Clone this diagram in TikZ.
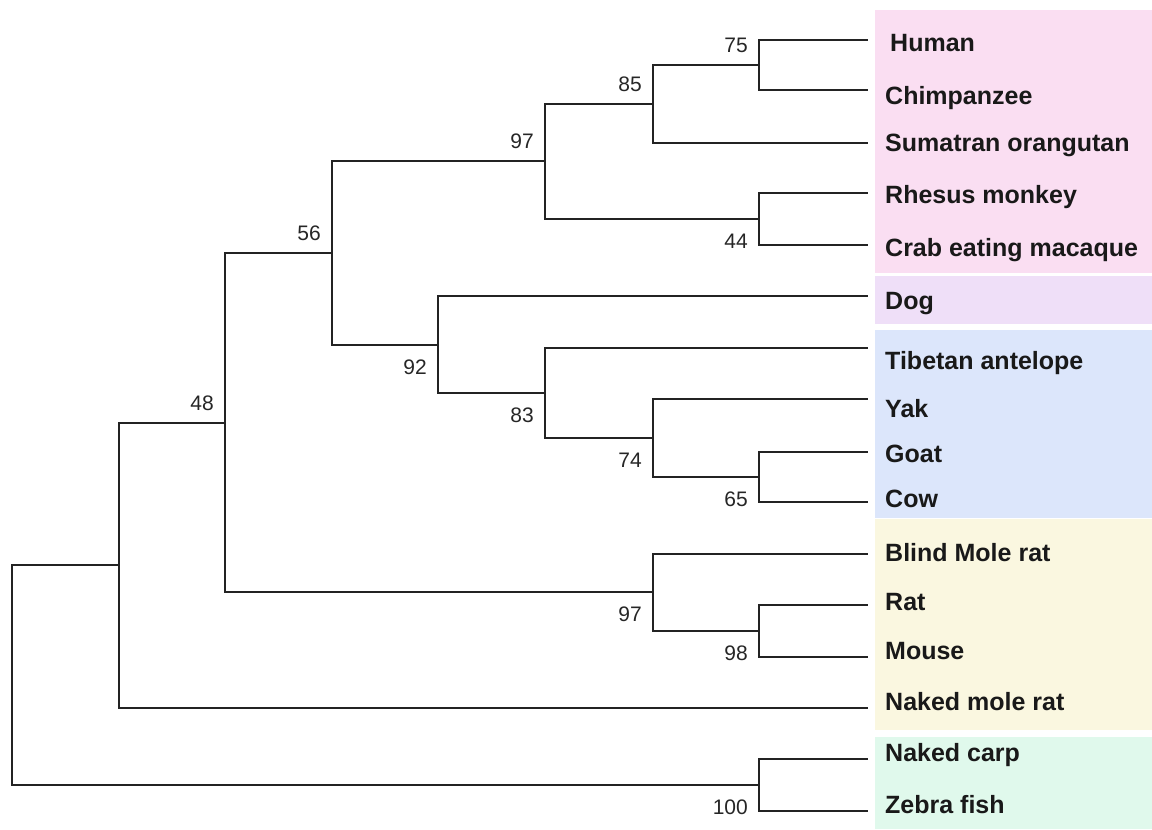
\documentclass[tikz,border=0pt]{standalone}
\usepackage{fontspec}
\setmainfont{Liberation Sans}
\definecolor{pinkbg}{RGB}{250,222,242}
\definecolor{lavbg}{RGB}{239,223,248}
\definecolor{bluebg}{RGB}{220,230,251}
\definecolor{yelbg}{RGB}{250,247,224}
\definecolor{grnbg}{RGB}{224,249,236}
\definecolor{branch}{RGB}{35,35,35}
\begin{document}
\begin{tikzpicture}[x=1pt,y=-1pt,
  br/.style={draw=branch,line width=2.1pt,line cap=rect},
  leaf/.style={anchor=mid west,inner sep=0pt,yshift=-5pt,font=\fontsize{25}{25}\selectfont\bfseries,text=black!90},
  bsa/.style={anchor=east,inner sep=0pt,xshift=-11pt,yshift=20pt,font=\fontsize{21}{21}\selectfont,text=black!85},
  bsb/.style={anchor=east,inner sep=0pt,xshift=-11pt,yshift=-22pt,font=\fontsize{21}{21}\selectfont,text=black!85}]
\useasboundingbox (0,0) rectangle (1152,830);
\fill[white] (0,0) rectangle (1152,830);
% colour bands
\fill[pinkbg] (875,10) rectangle (1152,273);
\fill[lavbg] (875,276) rectangle (1152,324);
\fill[bluebg] (875,330) rectangle (1152,518);
\fill[yelbg] (875,519) rectangle (1152,730);
\fill[grnbg] (875,737) rectangle (1152,829);
% leaf tips
\coordinate (tHuman) at (867,40);
\coordinate (tChimp) at (867,90);
\coordinate (tOrang) at (867,143);
\coordinate (tRhesus) at (867,193);
\coordinate (tCrab) at (867,245);
\coordinate (tDog) at (867,296);
\coordinate (tTib) at (867,348);
\coordinate (tYak) at (867,399);
\coordinate (tGoat) at (867,452);
\coordinate (tCow) at (867,502);
\coordinate (tBlind) at (867,554);
\coordinate (tRat) at (867,605);
\coordinate (tMouse) at (867,657);
\coordinate (tNaked) at (867,708);
\coordinate (tCarp) at (867,759);
\coordinate (tZebra) at (867,811);
% internal nodes
\coordinate (n75) at (759,65);
\coordinate (n85) at (653,104);
\coordinate (n44) at (759,219);
\coordinate (n97a) at (545,161);
\coordinate (n65) at (759,477);
\coordinate (n74) at (653,438);
\coordinate (n83) at (545,393);
\coordinate (n92) at (438,345);
\coordinate (n56) at (332,253);
\coordinate (n98) at (759,631);
\coordinate (n97b) at (653,592);
\coordinate (n48) at (225,423);
\coordinate (n1) at (119,565);
\coordinate (n100) at (759,785);
\coordinate (root) at (12,675);
% branches
\draw[br] (n75) |- (tHuman) (n75) |- (tChimp);
\draw[br] (n85) |- (n75) (n85) |- (tOrang);
\draw[br] (n44) |- (tRhesus) (n44) |- (tCrab);
\draw[br] (n97a) |- (n85) (n97a) |- (n44);
\draw[br] (n65) |- (tGoat) (n65) |- (tCow);
\draw[br] (n74) |- (tYak) (n74) |- (n65);
\draw[br] (n83) |- (tTib) (n83) |- (n74);
\draw[br] (n92) |- (tDog) (n92) |- (n83);
\draw[br] (n56) |- (n97a) (n56) |- (n92);
\draw[br] (n98) |- (tRat) (n98) |- (tMouse);
\draw[br] (n97b) |- (tBlind) (n97b) |- (n98);
\draw[br] (n48) |- (n56) (n48) |- (n97b);
\draw[br] (n1) |- (n48) (n1) |- (tNaked);
\draw[br] (n100) |- (tCarp) (n100) |- (tZebra);
\draw[br] (root) |- (n1) (root) |- (n100);
% bootstrap values
\node[bsa] (b75) at (n75) {75};
\node[bsa] (b85) at (n85) {85};
\node[bsa] (b97a) at (n97a) {97};
\node[bsa] (b56) at (n56) {56};
\node[bsa] (b48) at (n48) {48};
\node[bsb] (b44) at (n44) {44};
\node[bsb] (b92) at (n92) {92};
\node[bsb] (b83) at (n83) {83};
\node[bsb] (b74) at (n74) {74};
\node[bsb] (b65) at (n65) {65};
\node[bsb] (b97b) at (n97b) {97};
\node[bsb] (b98) at (n98) {98};
\node[bsb] (b100) at (n100) {100};
% leaf labels
\node[leaf] (lHuman) at (890,44) {Human};
\node[leaf] (lChimp) at (885,97) {Chimpanzee};
\node[leaf] (lOrang) at (885,144) {Sumatran orangutan};
\node[leaf] (lRhesus) at (885,196) {Rhesus monkey};
\node[leaf] (lCrab) at (885,249) {Crab eating macaque};
\node[leaf] (lDog) at (885,302) {Dog};
\node[leaf] (lTib) at (885,362) {Tibetan antelope};
\node[leaf] (lYak) at (885,410) {Yak};
\node[leaf] (lGoat) at (885,455) {Goat};
\node[leaf] (lCow) at (885,500) {Cow};
\node[leaf] (lBlind) at (885,554) {Blind Mole rat};
\node[leaf] (lRat) at (885,603) {Rat};
\node[leaf] (lMouse) at (885,652) {Mouse};
\node[leaf] (lNaked) at (885,703) {Naked mole rat};
\node[leaf] (lCarp) at (885,754) {Naked carp};
\node[leaf] (lZebra) at (885,806) {Zebra fish};
\end{tikzpicture}
\end{document}
